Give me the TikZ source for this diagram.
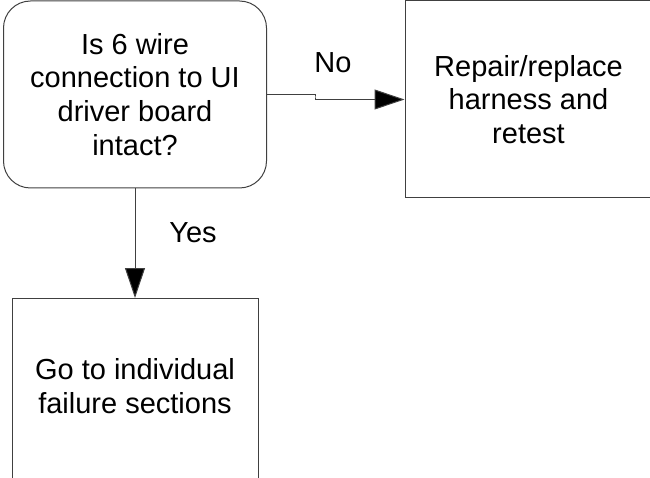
\documentclass[tikz,border=0pt]{standalone}
\usepackage{fontspec}
\setmainfont{Liberation Sans}
\usetikzlibrary{arrows.meta}
\begin{document}
\begin{tikzpicture}[x=1pt,y=-1pt,
  box/.style={draw=black!75, line width=1pt, align=center, inner sep=0pt,
    font=\fontsize{29}{33.8}\selectfont},
  lbl/.style={font=\fontsize{29}{33.8}\selectfont, inner sep=0pt},
  conn/.style={draw=black!75, line width=1pt,
    -{Triangle[length=30pt,width=20pt,fill=black]}}
]
\useasboundingbox (0,0) rectangle (650,478);
\clip (0,0) rectangle (650,478);
\node[box, rounded corners=27pt, minimum width=263pt, minimum height=187pt] (q)
  at (135,94.5) {Is 6 wire\\connection to UI\\driver board\\intact?};
\node[box, minimum width=247pt, minimum height=197pt] (r)
  at (528.5,99.5) {Repair/replace\\harness and\\retest};
\node[box, minimum width=246pt, minimum height=220pt, anchor=north] (g)
  at (135,298) {};
\node[lbl, align=center] (gt) at (135,386.5) {Go to individual\\failure sections};
\coordinate (bend) at (315,97);
\draw[conn] (q.east) -| (bend) |- (r.west);
\draw[conn] (q.south) -- (g.north);
\node[lbl, anchor=base] (no) at (333,73) {No};
\node[lbl, anchor=base] (yes) at (193,243) {Yes};
\end{tikzpicture}
\end{document}
